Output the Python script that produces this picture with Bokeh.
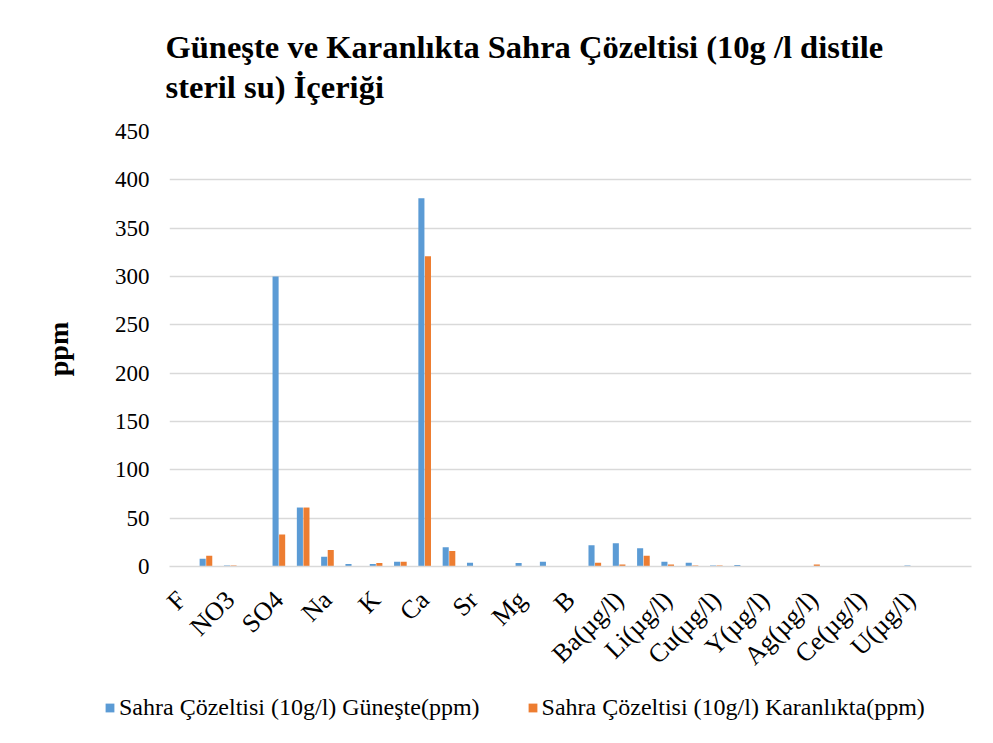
from math import pi
from bokeh.plotting import figure
from bokeh.layouts import column
from bokeh.models import (ColumnDataSource, Range1d, FixedTicker, Legend, LegendItem)
from bokeh.transform import dodge
from bokeh.embed import file_html
from bokeh.resources import INLINE

categories = ["F", "Cl", "NO3", "Br", "SO4", "HCO3", "Na", "NH4", "K", "Si", "Ca", "Fe",
              "Sr", "Mn", "Mg", "Al", "B", "Zn(µg/l)", "Ba(µg/l)", "Ni(µg/l)", "Li(µg/l)",
              "Cr(µg/l)", "Cu(µg/l)", "Pb(µg/l)", "Y(µg/l)", "Co(µg/l)", "Ag(µg/l)",
              "Cd(µg/l)", "Ce(µg/l)", "La(µg/l)", "U(µg/l)", "Th(µg/l)", "As(µg/l)"]
sun = [0, 8, 1, 0, 300, 61, 10, 2.5, 2.5, 5, 381, 20, 4, 0.5, 3.5, 5, 0, 22, 24, 19, 5, 4,
       1, 1.5, 0, 0, 0.5, 0, 0.5, 0, 1, 0, 0]
dark = [0, 11, 1, 0, 33, 61, 17, 0.5, 3.5, 5, 321, 16, 0, 0, 0, 0.3, 0, 4, 2, 11, 2, 1,
        1, 0, 0, 0, 2, 0, 0, 0, 0, 0, 0]
shown_labels = {i: c for i, c in enumerate(categories) if i % 2 == 0 and i <= 30}
y_ticks = [0, 50, 100, 150, 200, 250, 300, 350, 400, 450]

title_text = "Güneşte ve Karanlıkta Sahra Çözeltisi (10g /l distile\nsteril su) İçeriği"
series_names = ["Sahra Çözeltisi (10g/l) Güneşte(ppm)", "Sahra Çözeltisi (10g/l) Karanlıkta(ppm)"]

FONT = "Liberation Serif"
BLUE = "#5B9BD5"
ORANGE = "#ED7D31"
GRID = "#D9D9D9"

src = ColumnDataSource(dict(x=list(range(len(categories))), sun=sun, dark=dark))
xr = Range1d(-0.5, len(categories) - 0.5)

# ---- main chart ----
p = figure(width=977, height=690, output_backend="svg", toolbar_location=None,
           x_range=xr, y_range=Range1d(0, 450),
           min_border_left=169, min_border_right=6, min_border_top=131, min_border_bottom=124)
p.frame_align = False

p.vbar(x=dodge("x", -0.135, range=xr), top="sun", width=0.25, source=src,
       fill_color=BLUE, line_color=None)
p.vbar(x=dodge("x", 0.135, range=xr), top="dark", width=0.25, source=src,
       fill_color=ORANGE, line_color=None)

p.title.text = title_text
p.title.text_font = FONT
p.title.text_font_size = "32.5px"
p.title.text_font_style = "bold"
p.title.text_color = "black"
p.title.text_line_height = 1.1
p.title.align = "left"
p.title.offset = -4
p.title.standoff = 53

p.outline_line_color = None
p.xgrid.grid_line_color = None
p.ygrid.grid_line_color = GRID
p.ygrid.grid_line_width = 1.3

p.xaxis.ticker = FixedTicker(ticks=list(shown_labels.keys()))
p.xaxis.major_label_overrides = shown_labels
p.xaxis.major_label_orientation = pi / 4
p.xaxis.major_label_text_font = FONT
p.xaxis.major_label_text_font_size = "26px"
p.xaxis.major_label_text_color = "black"
p.xaxis.axis_line_color = GRID
p.xaxis.axis_line_width = 1.5
p.xaxis.major_tick_line_color = None
p.xaxis.minor_tick_line_color = None
p.xaxis.major_label_standoff = 23

p.yaxis.ticker = FixedTicker(ticks=y_ticks)
p.yaxis.major_label_text_font = FONT
p.yaxis.major_label_text_font_size = "23px"
p.yaxis.major_label_text_color = "black"
p.yaxis.axis_line_color = None
p.yaxis.major_tick_line_color = None
p.yaxis.minor_tick_line_color = None
p.yaxis.major_label_standoff = 14
p.yaxis.axis_label = "ppm"
p.yaxis.axis_label_text_font = FONT
p.yaxis.axis_label_text_font_size = "28px"
p.yaxis.axis_label_text_font_style = "bold"
p.yaxis.axis_label_text_color = "black"
p.yaxis.axis_label_standoff = 38

# ---- legend strip (same data source; its bars are hidden, only the legend shows) ----
q = figure(width=977, height=37, output_backend="svg", toolbar_location=None,
           x_range=xr, y_range=Range1d(-2, -1), x_axis_type=None, y_axis_type=None,
           min_border=0)
q.frame_align = False
q.outline_line_color = None
q.grid.visible = False
l1 = q.vbar(x=dodge("x", -0.135, range=xr), top="sun", width=0.25, source=src,
            fill_color=BLUE, line_color=None, visible=False)
l2 = q.vbar(x=dodge("x", 0.135, range=xr), top="dark", width=0.25, source=src,
            fill_color=ORANGE, line_color=None, visible=False)

legend = Legend(items=[LegendItem(label=series_names[0], renderers=[l1]),
                       LegendItem(label=series_names[1], renderers=[l2])],
                orientation="horizontal", location=(104, 6), click_policy="none",
                glyph_width=11, glyph_height=11, label_standoff=4, spacing=47,
                label_height=24, padding=0, margin=0, border_line_color=None,
                background_fill_alpha=0, label_text_color="black",
                label_text_font=FONT, label_text_font_size="24px")
q.add_layout(legend, "center")

layout = column(p, q, spacing=0)
open("out.html", "w").write(file_html(layout, INLINE))
